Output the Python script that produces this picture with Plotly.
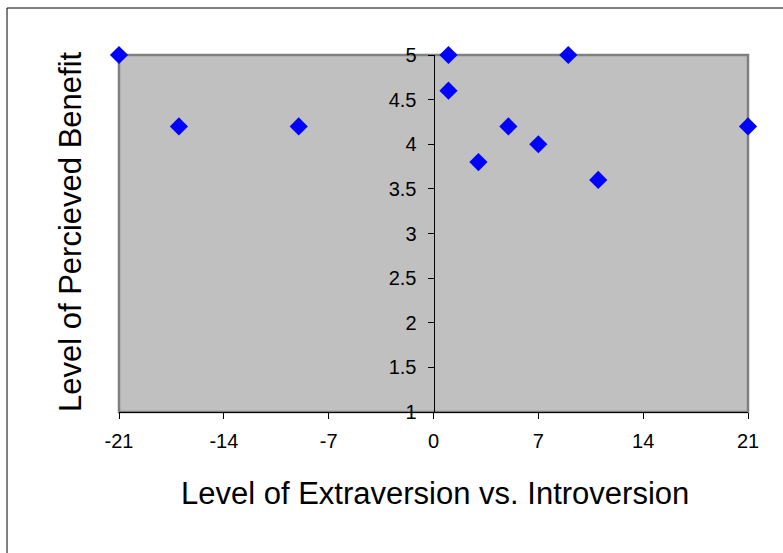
import plotly.graph_objects as go

x_vals = [-21, -17, -9, 1, 1, 3, 5, 7, 9, 11, 21]
y_vals = [5, 4.2, 4.2, 5, 4.6, 3.8, 4.2, 4.0, 5, 3.6, 4.2]
x_ticks = [-21, -14, -7, 0, 7, 14, 21]
y_ticks = [1, 1.5, 2, 2.5, 3, 3.5, 4, 4.5, 5]
x_title = "Level of Extraversion vs. Introversion"
y_title = "Level of Percieved Benefit"

W, H = 783, 553
L, R, T, B = 119, 748, 55, 412
pw, ph = R - L, B - T
font = "Arial, Liberation Sans, sans-serif"

fig = go.Figure()
fig.add_trace(go.Scatter(
    x=x_vals, y=y_vals, mode="markers",
    marker=dict(symbol="diamond", size=14, color="#0000FF"),
    cliponaxis=False, showlegend=False,
))

fig.update_layout(
    width=W, height=H,
    margin=dict(l=L, r=W - R, t=T, b=H - B),
    paper_bgcolor="white", plot_bgcolor="#C0C0C0",
    font=dict(family=font, size=20, color="black"),
    xaxis=dict(range=[-21, 21], tickvals=x_ticks, ticktext=[str(v) for v in x_ticks],
               showgrid=False, zeroline=False, showline=True, linecolor="black", linewidth=1,
               ticks="outside", ticklen=6, tickcolor="black", ticklabelstandoff=5),
    yaxis=dict(range=[1, 5], tickvals=y_ticks, ticktext=[f"{v:g}" for v in y_ticks],
               anchor="free", position=0.5,
               showgrid=False, zeroline=False, showline=True, linecolor="black", linewidth=1,
               ticks="outside", ticklen=6, tickcolor="black", ticklabelstandoff=7),
    shapes=[
        dict(type="rect", xref="paper", yref="paper", x0=0, x1=1, y0=0, y1=1,
             line=dict(color="#808080", width=2.5), layer="below"),
        dict(type="rect", xref="paper", yref="paper",
             x0=(7 - L) / pw, x1=(800 - L) / pw, y0=(B - 580) / ph, y1=(B - 8) / ph,
             line=dict(color="black", width=1), layer="below"),
    ],
    annotations=[
        dict(text=x_title, xref="paper", yref="paper", x=(435 - L) / pw, y=(B - 493) / ph,
             showarrow=False, font=dict(size=31, family=font), xanchor="center", yanchor="middle"),
        dict(text=y_title, xref="paper", yref="paper", x=(70 - L) / pw, y=(B - 232) / ph,
             showarrow=False, textangle=-90, font=dict(size=31, family=font),
             xanchor="center", yanchor="middle"),
    ],
)
fig.write_html("out.html")
